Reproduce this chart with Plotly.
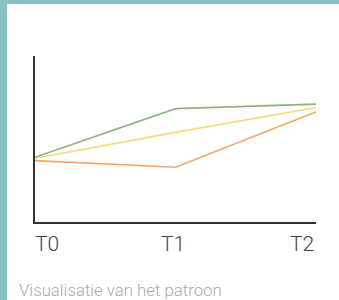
import plotly.graph_objects as go

categories = ["T0", "T1", "T2"]
green = [3.9, 6.83, 7.1]
yellow = [3.84, 5.4, 6.9]
orange = [3.7, 3.3, 6.63]
caption = "Visualisatie van het patroon"

W, H = 339, 300
fig = go.Figure()
for vals, col in [(orange, "#F2A66A"), (yellow, "#F7D97A"), (green, "#8FB47F")]:
    fig.add_trace(go.Scatter(x=categories, y=vals, mode="lines",
                             line=dict(color=col, width=1.6), hoverinfo="skip"))

fig.update_layout(
    width=W, height=H, margin=dict(l=0, r=0, t=0, b=0),
    paper_bgcolor="white", plot_bgcolor="white", showlegend=False,
    xaxis=dict(domain=[35/W, 316/W], range=[0, 2], showgrid=False, zeroline=False,
               showline=True, linecolor="#333", linewidth=1.5, showticklabels=False, ticks=""),
    yaxis=dict(domain=[(H-222)/H, (H-56)/H], range=[0, 10], showgrid=False, zeroline=False,
               showline=True, linecolor="#333", linewidth=1.5, showticklabels=False, ticks=""),
)

anchors = ["left", "center", "right"]
shifts = [-2, -3, 0]
for i, c in enumerate(categories):
    fig.add_annotation(x=c, xref="x", y=(H-244)/H, yref="paper", text=c, showarrow=False,
                       xanchor=anchors[i], yanchor="middle", xshift=shifts[i],
                       font=dict(family="Roboto", size=21, color="#444444", weight=300))

fig.add_annotation(x=17/W, y=(H-290)/H, xref="paper", yref="paper", text=caption,
                   showarrow=False, xanchor="left", yanchor="middle",
                   font=dict(family="Roboto", size=16.8, color="#aaaaaa", weight=300))

# teal frame bands
fig.add_shape(type="rect", xref="paper", yref="paper", x0=0, x1=1, y0=(H-4)/H, y1=1,
              fillcolor="#86C3C7", line=dict(width=0), layer="below")
fig.add_shape(type="rect", xref="paper", yref="paper", x0=0, x1=7/W, y0=0, y1=1,
              fillcolor="#86C3C7", line=dict(width=0), layer="below")

fig.write_html("out.html", config={"displayModeBar": False},
               post_script="document.body.style.margin='0px';document.body.style.overflow='hidden';")
